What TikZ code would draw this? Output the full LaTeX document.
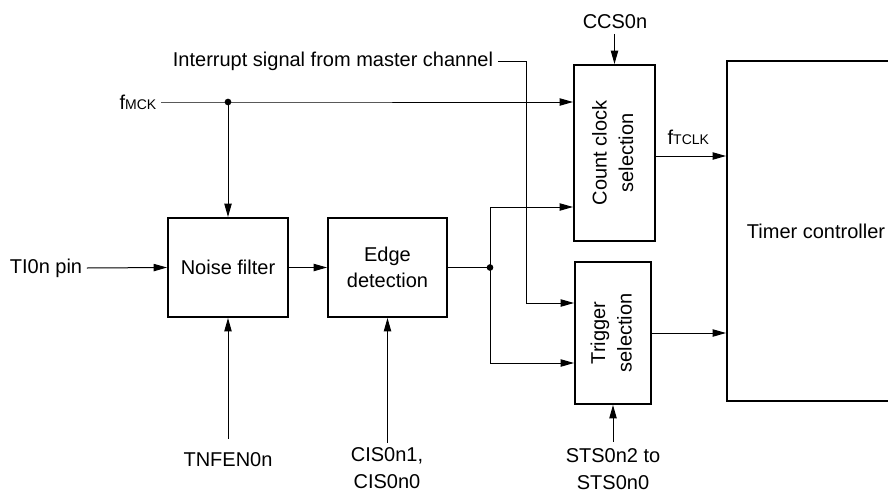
\documentclass[tikz,border=0pt]{standalone}
\usepackage{fontspec}
\setmainfont{Liberation Sans}
\usetikzlibrary{arrows.meta,positioning}
\newcommand{\lblfont}{\fontsize{15}{20}\selectfont}
\newcommand{\clk}[1]{f{\fontsize{10.5}{12}\selectfont #1}}
\tikzset{
  blk/.style={rectangle,draw,line width=1.5pt,align=center,inner sep=2pt,
    font=\lblfont},
  sig/.style={align=center,font=\lblfont},
  wire/.style={line width=0.75pt},
  arr/.style={-{Triangle[length=10pt,width=5.5pt]},line width=0.75pt},
  tap/.style={circle,fill,inner sep=0pt,minimum size=5pt}
}
\newcommand{\vtext}[1]{\rotatebox{90}{\begin{tabular}{@{}c@{}}#1\end{tabular}}}

\begin{document}
\begin{tikzpicture}[x=0.75pt,y=-0.75pt]
  \useasboundingbox (0,0) rectangle (888,493);
  % blocks
  \node[blk,minimum width=90pt,minimum height=74.25pt] (noise) at (228,267.5) {Noise filter};
  \node[blk,minimum width=89.25pt,minimum height=74.25pt] (edge) at (387.5,267.5) {Edge\\detection};
  \node[blk,minimum width=60.75pt,minimum height=132pt] (count) at (614.5,153) {\vtext{Count clock\\selection}};
  \node[blk,minimum width=57pt,minimum height=106.5pt] (trig) at (613,333) {\vtext{Trigger\\selection}};
  \begin{scope}
    \clip (0,0) rectangle (888,493);
    \node[blk,minimum width=133.5pt,minimum height=255pt] (timer) at (816,231) {Timer controller};
  \end{scope}
  % signal names
  \node[sig] (tipin) at (46,268) {TI0n pin};
  \node[sig] (fmck) at (138,102) {\clk{MCK}};
  \node[sig] (intr) at (333,61) {Interrupt signal from master channel};
  \node[sig] (ccs) at (615,22) {CCS0n};
  \node[sig] (tnfen) at (228,460) {TNFEN0n};
  \node[sig] (cis) at (387,468) {CIS0n1,\\CIS0n0};
  \node[sig,inner sep=1pt] (sts) at (613,469) {STS0n2 to\\STS0n0};
  % clock path
  \coordinate (mck) at (228,102);
  \draw[arr] (fmck.east |- mck) -- (mck) -- (mck -| count.west);
  \draw[arr] (mck) -- (noise.north);
  \node[tap] at (mck) {};
  % input path
  \draw[arr] (tipin.east) -- (noise.west);
  \draw[arr] (noise.east) -- (edge.west);
  \draw[wire] (edge.east) -- ++(42,0) coordinate (jn);
  \draw[arr] (jn) |- ([yshift=-40.5pt]count.west);
  \draw[arr] (jn) |- ([yshift=-22.5pt]trig.west);
  \node[tap] at (jn) {};
  \draw[arr] (intr.east) -- ++(29,0) |- ([yshift=22.5pt]trig.west);
  % outputs
  \coordinate (tclk) at ([yshift=-2.25pt]count.east);
  \draw[arr] (tclk) -- (tclk -| timer.west) node[midway,above,yshift=5pt,xshift=-2pt,font=\lblfont] {\clk{TCLK}};
  \draw[arr] (trig.east) -- (trig.east -| timer.west);
  % control registers
  \draw[arr] (count.north |- ccs.south) -- (count.north);
  \draw[arr] ([yshift=7pt]tnfen.north) -- (noise.south);
  \draw[arr] (edge.south |- cis.north) -- (edge.south);
  \draw[arr] ([yshift=4pt]sts.north) -- (trig.south);
\end{tikzpicture}
\end{document}
